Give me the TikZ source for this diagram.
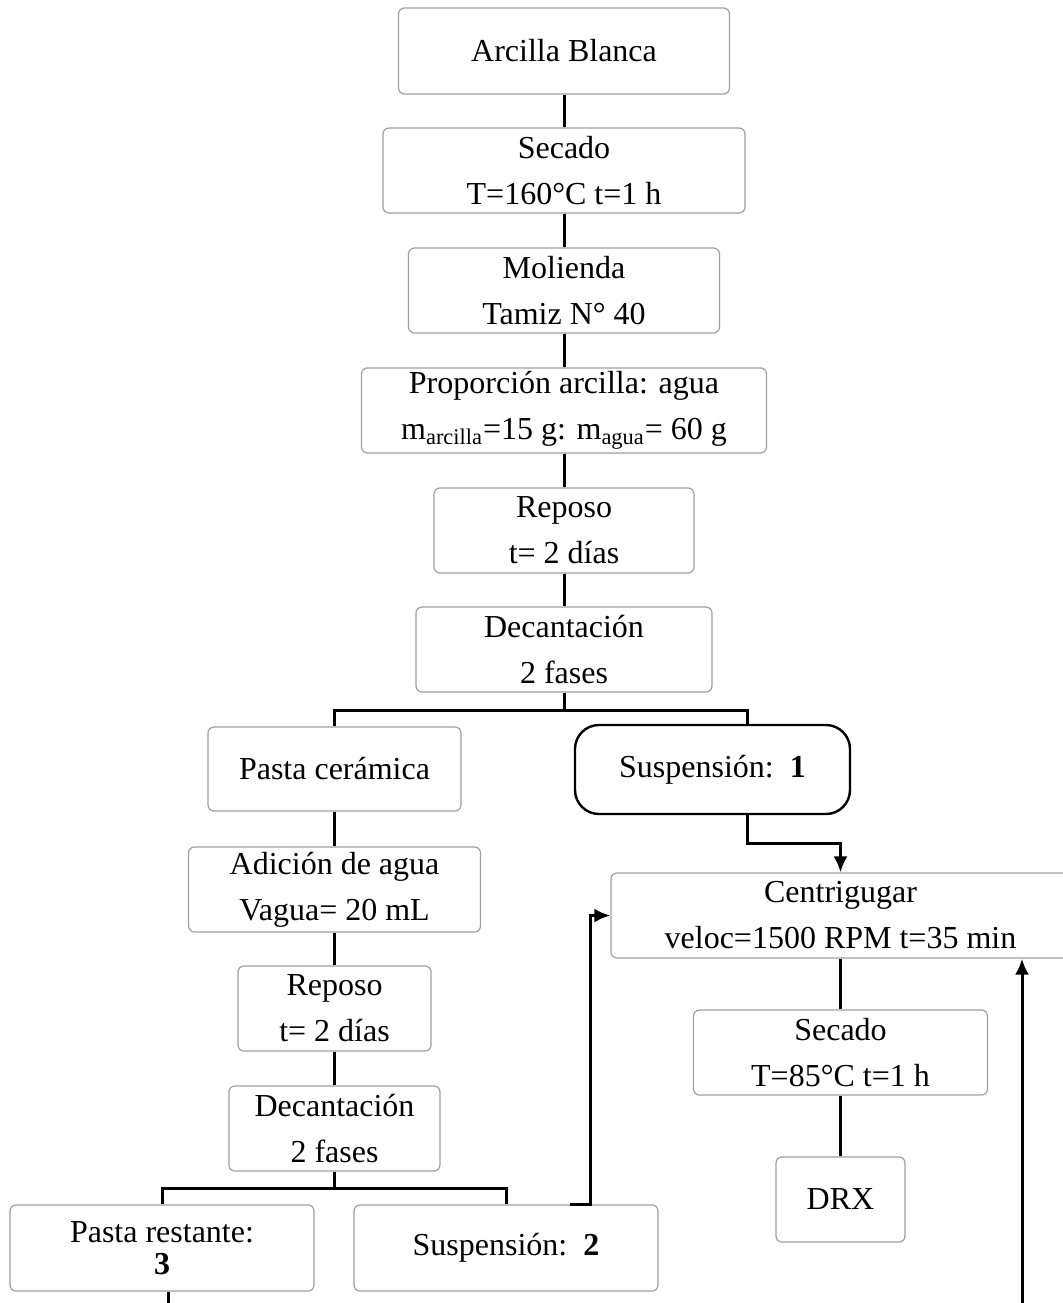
\documentclass[tikz,border=0pt]{standalone}
\usepackage{fontspec}
\setmainfont{Liberation Serif}
\usepackage{tikz}
\usetikzlibrary{arrows,arrows.meta}

\begin{document}
\begin{tikzpicture}[x=0.5pt,y=-0.5pt]

\tikzset{box/.style = {shape=rectangle,draw=gray!75,line width=0.6pt,rounded corners=3pt,align=center,inner sep=0pt,font=\fontsize{16}{23}\selectfont}}
\tikzset{link/.style = {line width=1.5pt}}
\tikzset{flow/.style = {->,line width=1.5pt,> = {Latex[length=8pt,width=7pt]}}}
\useasboundingbox[fill=white] (0,0) rectangle (1063,1303);
% boxes
\node[box,minimum width=165.5pt,minimum height=43pt] (arcilla) at (564,51) {Arcilla Blanca};
\node[box,minimum width=181pt,minimum height=42.5pt] (secado) at (564,170.5) {Secado\\T=160°C t=1 h};
\node[box,minimum width=155.5pt,minimum height=42.5pt] (molienda) at (564,290.5) {Molienda\\Tamiz N° 40};
\node[box,minimum width=202.5pt,minimum height=42.5pt] (proporcion) at (564,410.5) {Proporción arcilla: agua\\m\textsubscript{arcilla}=15 g: m\textsubscript{agua}= 60 g};
\node[box,minimum width=130pt,minimum height=42.5pt] (reposo) at (564,530.5) {Reposo\\t= 2 días};
\node[box,minimum width=148pt,minimum height=42.5pt] (decant) at (564,649.5) {Decantación\\2 fases};
\node[box,minimum width=126.5pt,minimum height=42pt] (pasta) at (334.5,769) {Pasta cerámica};
\node[box,draw=black,line width=1.2pt,rounded corners=12pt,minimum width=137.5pt,minimum height=44.5pt] (susp1) at (712.5,769.5) {Suspensión:~~\textbf{1}};
\node[box,minimum width=146pt,minimum height=42.5pt] (adicion) at (334.5,889.5) {Adición de agua\\Vagua= 20 mL};
\node[box,minimum width=96.5pt,minimum height=42.5pt] (reposob) at (334.5,1008.5) {Reposo\\t= 2 días};
\node[box,minimum width=105.5pt,minimum height=42.5pt] (decantb) at (334.5,1128.5) {Decantación\\2 fases};
\node[box,minimum width=152pt,minimum height=43pt] (restante) at (162,1248) {Pasta restante:\\[-7pt]\textbf{3}};
\node[box,minimum width=152pt,minimum height=43pt] (susp2) at (506,1248) {Suspensión:~~\textbf{2}};
\node[box,minimum width=229.5pt,minimum height=42.5pt] (centri) at (840.5,915.5) {Centrigugar\\veloc=1500 RPM t=35 min};
\node[box,minimum width=147pt,minimum height=42.5pt] (secadob) at (840.5,1052.5) {Secado\\T=85°C t=1 h};
\node[box,minimum width=64.5pt,minimum height=42.5pt] (drx) at (840.5,1199.5) {DRX};
\coordinate (split) at (564,710);
\coordinate (splitb) at (334.5,1188);
\coordinate (restend) at (168,1303);
\coordinate (back) at (1022,1303);
% connectors
\draw[link] (arcilla) -- (secado);
\draw[link] (secado) -- (molienda);
\draw[link] (molienda) -- (proporcion);
\draw[link] (proporcion) -- (reposo);
\draw[link] (reposo) -- (decant);
\draw[link] (decant.south) -- (split);
\draw[link] (pasta.north) |- (split) -| ([xshift=17.5pt]susp1.north);
\draw[link] (pasta) -- (adicion);
\draw[link] (adicion) -- (reposob);
\draw[link] (reposob) -- (decantb);
\draw[link] (decantb.south) -- (splitb);
\draw[link] (restante.north) |- (splitb) -| (susp2.north);
\draw[link] (restante.south -| restend) -- (restend);
\draw[flow] ([xshift=17.5pt]susp1.south) -- ++(0,28) -| (centri.north);
\draw[flow] ([xshift=32pt]susp2.north) -- ++(20,0) |- (centri.west);
\draw[link] (centri) -- (secadob);
\draw[link] (secadob) -- (drx);
\draw[flow] (back) -- (back |- centri.south);

\end{tikzpicture}
\end{document}
